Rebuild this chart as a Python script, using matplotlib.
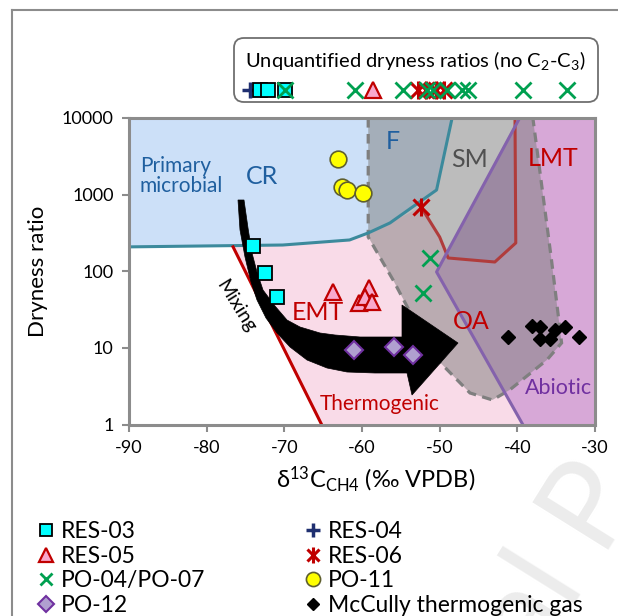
import matplotlib
matplotlib.use("Agg")
import matplotlib.pyplot as plt
from matplotlib.patches import Polygon, FancyBboxPatch
from matplotlib.lines import Line2D

plt.rcParams['font.family'] = ['Lato', 'DejaVu Sans']
plt.rcParams['mathtext.fontset'] = 'custom'
plt.rcParams['mathtext.rm'] = 'Lato'
plt.rcParams['mathtext.it'] = 'Lato:italic'
plt.rcParams['axes.unicode_minus'] = False

# ---- data (d13C-CH4, dryness ratio) ----
res03_x = [-74.0, -72.5, -71.0]
res03_y = [214, 95, 46]
res05_x = [-63.7, -60.4, -59.1, -59.6, -58.7]
res05_y = [54, 39, 60, 46, 40]
res06_x = [-52.4]
res06_y = [690]
po04_x = [-51.3, -52.2]
po04_y = [149, 52]
po11_x = [-63.1, -62.6, -61.9, -59.9]
po11_y = [2925, 1260, 1150, 1053]
po12_x = [-61.0, -55.9, -53.4]
po12_y = [9.4, 10.3, 8.1]
mccully_x = [-41.2, -38.1, -37.1, -37.1, -35.8, -35.2, -33.9, -32.0]
mccully_y = [13.9, 19.3, 18.8, 13.1, 13.1, 17.1, 18.8, 13.9]

# samples with no C2-C3 (only d13C known)
unq_res04_x = [-74.4]
unq_res03_x = [-73.1, -72.1, -69.9]
unq_res05_x = [-58.6]
unq_res06_x = [-52.8, -51.8, -50.5, -49.5]
unq_po04_x = [-69.9, -60.9, -54.7, -51.6, -50.9, -49.1, -47.1, -46.4, -39.3, -33.6]

# ---- field boundaries ----
teal_x = [-90, -70.2, -61.6, -59.2, -56.4, -50.4, -48.4]
teal_y = [208, 220, 256, 316, 427, 1150, 10000]
thermo_x = [-76.6, -65.2]
thermo_y = [208, 1]
lmt_x = [-52.4, -50.0, -48.9, -42.9, -40.2, -40.3]
lmt_y = [690, 280, 149, 132, 234, 10000]
abio_x = [-39.7, -50.4, -39.3]
abio_y = [10000, 98, 1]
oa_x = [-59.2, -59.2, -56.0, -50.9, -46.1, -43.2, -41.0, -36.2, -34.3, -35.6, -38.0]
oa_y = [10000, 280, 77, 8.1, 2.58, 2.09, 2.82, 6.95, 11.6, 140, 10000]

fig = plt.figure(figsize=(6.18, 6.16), dpi=100)
ax = fig.add_axes([129/618, (616-424.5)/616, 466/618, 306.5/616])
ax.set_yscale('log')
ax.set_xlim(-90, -30)
ax.set_ylim(1, 10000)

# region fills
ax.add_patch(Polygon(list(zip([-90, -90] + teal_x[1:], [10000, 208] + teal_y[1:])),
                     closed=True, fc='#cce0f8', ec='none', zorder=1))
pink = [(-76.6, 208)] + list(zip(teal_x[1:5], teal_y[1:5])) + [(-52.4, 690)] \
    + list(zip(lmt_x[1:3], lmt_y[1:3])) + [(-30, 149), (-30, 1), (-65.2, 1)]
ax.add_patch(Polygon(pink, closed=True, fc='#f9dbe8', ec='none', zorder=1))
ax.add_patch(Polygon(list(zip(abio_x + [-30, -30], abio_y + [1, 10000])),
                     closed=True, fc='#d7a8d7', ec='none', zorder=1))
ax.add_patch(Polygon([(-49.3, 158), (-42.9, 132), (-40.2, 234), (-40.3, 8500)],
                     closed=True, fc='#6a5a9a', alpha=0.25, ec='none', zorder=2))

# OA field (dashed grey)
oa = list(zip(oa_x, oa_y))
ax.add_patch(Polygon(oa, closed=True, fc='#808080', alpha=0.52, ec='none', zorder=3))
ax.add_patch(Polygon(oa, closed=True, fc='none', ec='#7f7f7f', lw=2.3,
                     ls=(0, (3, 2)), zorder=3))

ax.plot(teal_x, teal_y, color='#3c8a9c', lw=2.2, zorder=4)
ax.plot(lmt_x, lmt_y, color='#b03c3c', lw=2.2, zorder=4)
ax.plot(abio_x, abio_y, color='#8462ac', lw=2.2, zorder=4)
ax.plot(thermo_x, thermo_y, color='#c00000', lw=2.2, zorder=4)

# mixing arrow (drawn in pixel-ish axes units)
def pa(px, py):
    return ((px - 129) / 466, (424.5 - py) / 306.5)

arrow_px = [(238, 200), (240, 230), (245, 257), (251, 282), (257, 300), (266, 318),
            (277, 333), (290, 347), (307, 360), (327, 368), (347, 372), (375, 373),
            (407, 373), (412, 395), (458, 343), (402, 305), (402, 337), (360, 337),
            (335, 335), (320, 333), (300, 327), (287, 320), (275, 306), (263, 290),
            (257, 272), (252, 253), (248, 228), (244, 200)]
ax.add_patch(Polygon([pa(*p) for p in arrow_px], closed=True, fc='black', ec='black',
                     lw=0.5, transform=ax.transAxes, zorder=5))
ax.text(*pa(236, 306), 'Mixing', transform=ax.transAxes, rotation=-58,
        ha='center', va='center', fontsize=14, zorder=6)

# field labels
blue = '#1f5f9f'
red = '#c00000'
ax.text(-88.6, 1750, 'Primary\nmicrobial', color=blue, fontsize=15, ha='left',
        va='center', linespacing=1.05, zorder=6)
ax.text(-72.9, 1750, 'CR', color=blue, fontsize=18, ha='center', va='center', zorder=6)
ax.text(-56.0, 5000, 'F', color=blue, fontsize=18, ha='center', va='center', zorder=6)
ax.text(-46.1, 2840, 'SM', color='#505050', fontsize=18, ha='center', va='center', zorder=6)
ax.text(-35.4, 3000, 'LMT', color=red, fontsize=18, ha='center', va='center', zorder=6)
ax.text(-65.7, 28.6, 'EMT', color=red, fontsize=18, ha='center', va='center', zorder=6)
ax.text(-45.9, 21.8, 'OA', color=red, fontsize=18, ha='center', va='center', zorder=6)
ax.text(-57.7, 1.85, 'Thermogenic', color=red, fontsize=15, ha='center', va='center', zorder=6)
ax.text(-34.7, 3.0, 'Abiotic', color='#7030a0', fontsize=15.5, ha='center', va='center', zorder=6)

# data points
sq = dict(marker='s', ms=10, mfc='#00ffff', mec='black', mew=1.3, ls='none')
tri = dict(marker='^', ms=12, mfc='#f9a8cc', mec='#c00000', mew=1.6, ls='none')
plus = dict(marker='+', ms=12, mec='#1f2f70', mew=2.5, ls='none')
xg = dict(marker='x', ms=11, mec='#00a050', mew=2.0, ls='none')
xr = dict(marker='x', ms=11, mec='#c00000', mew=2.2, ls='none')
vr = dict(marker='|', ms=13, mec='#c00000', mew=2.2, ls='none')
circ = dict(marker='o', ms=12, mfc='#ffff00', mec='#5f5f2f', mew=1.2, ls='none')
dia = dict(marker='D', ms=9, mfc='#b0a0d0', mec='#7030a0', mew=1.5, ls='none')
blk = dict(marker='D', ms=7.5, mfc='black', mec='black', ls='none')

ax.plot(res03_x, res03_y, zorder=7, **sq)
ax.plot(res05_x, res05_y, zorder=7, **tri)
ax.plot(res06_x, res06_y, zorder=7, **xr)
ax.plot(res06_x, res06_y, zorder=7, **vr)
ax.plot(po04_x, po04_y, zorder=7, **xg)
ax.plot(po11_x, po11_y, zorder=7, **circ)
ax.plot(po12_x, po12_y, zorder=7, **dia)
ax.plot(mccully_x, mccully_y, zorder=7, **blk)

# unquantified strip above axes
uy = 1.091
tr = ax.get_xaxis_transform()
ax.plot(unq_res04_x, [uy] * len(unq_res04_x), transform=tr, clip_on=False, zorder=9, **plus)
ax.plot(unq_res03_x, [uy] * len(unq_res03_x), transform=tr, clip_on=False, zorder=9, **sq)
ax.plot(unq_res05_x, [uy] * len(unq_res05_x), transform=tr, clip_on=False, zorder=9, **tri)
ax.plot(unq_res06_x, [uy] * len(unq_res06_x), transform=tr, clip_on=False, zorder=9, **xr)
ax.plot(unq_res06_x, [uy] * len(unq_res06_x), transform=tr, clip_on=False, zorder=9, **vr)
ax.plot(unq_po04_x, [uy] * len(unq_po04_x), transform=tr, clip_on=False, zorder=9, **xg)

box = FancyBboxPatch((234/618, (616-102)/616), (598-234)/618, 64/616,
                     boxstyle='round,pad=0,rounding_size=0.016', transform=fig.transFigure,
                     fc='white', ec='#6f6f6f', lw=1.3, zorder=0)
fig.add_artist(box)
fig.text(415/618, (616-60)/616, 'Unquantified dryness ratios (no C$_2$-C$_3$)',
         ha='center', va='center', fontsize=14.5)

# axes styling
for s in ax.spines.values():
    s.set_color('#8c8c8c')
    s.set_linewidth(2.2)
    s.set_zorder(8)
ax.set_xticks([-90, -80, -70, -60, -50, -40, -30])
ax.set_yticks([1, 10, 100, 1000, 10000])
ax.set_yticklabels(['1', '10', '100', '1000', '10000'])
ax.minorticks_off()
ax.tick_params(axis='both', direction='out', length=5, width=1.5, color='#8c8c8c',
               labelsize=13, pad=6)
ax.set_ylabel('Dryness ratio', fontsize=16, labelpad=10)
ax.set_xlabel('δ$^{13}$C$_{\\mathrm{CH4}}$ (‰ VPDB)', fontsize=17, labelpad=4)
ax.xaxis.set_label_coords(0.53, -0.13)

# bottom legend
h_res03 = Line2D([], [], **sq)
h_res05 = Line2D([], [], **tri)
h_po04 = Line2D([], [], **xg)
h_po12 = Line2D([], [], **dia)
h_res04 = Line2D([], [], **plus)
h_res06 = (Line2D([], [], **xr), Line2D([], [], **vr))
h_po11 = Line2D([], [], **circ)
h_mcc = Line2D([], [], **blk)
fig.legend([h_res03, h_res05, h_po04, h_po12, h_res04, h_res06, h_po11, h_mcc],
           ['RES-03', 'RES-05', 'PO-04/PO-07', 'PO-12', 'RES-04', 'RES-06', 'PO-11',
            'McCully thermogenic gas'],
           ncol=2, loc='upper left', bbox_to_anchor=(28/618, (616-510)/616),
           frameon=False, fontsize=16.5, handlelength=0.6, handletextpad=0.35,
           labelspacing=0.15, columnspacing=4.4, borderpad=0, markerscale=0.85)

# figure frame and watermark
fig.add_artist(Line2D([12/618, 1], [606/616, 606/616], transform=fig.transFigure,
                      color='#8c8c8c', lw=1.5))
fig.add_artist(Line2D([12/618, 12/618], [0, 606/616], transform=fig.transFigure,
                      color='#8c8c8c', lw=1.5))
fig.text(560/618, 55/616, 'al P', rotation=58, fontsize=90, color='#ececec',
         ha='center', va='center', zorder=-1)

fig.savefig('out.png', dpi=100)
